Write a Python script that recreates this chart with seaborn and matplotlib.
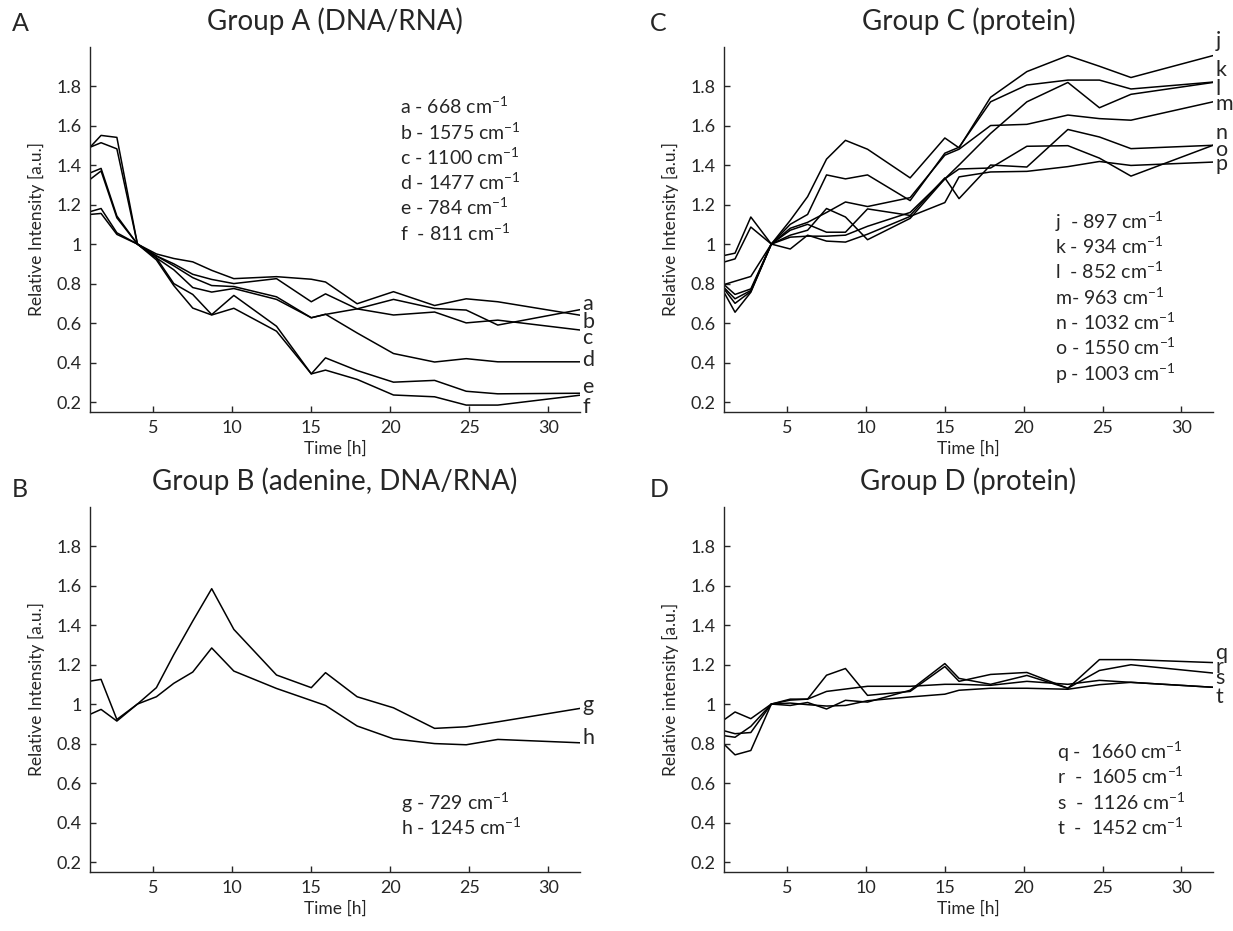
import numpy as np
import pandas as pd
import seaborn as sns
import matplotlib.pyplot as plt
from matplotlib.ticker import FuncFormatter

# time points [h]
time_h = [1, 1.7, 2.7, 4, 5.2, 6.3, 7.5, 8.7, 10.1, 12.8, 15, 15.9, 17.9, 20.2, 22.8, 24.8, 26.8, 32]

# Group A (DNA/RNA)
a_668 = [1.49, 1.55, 1.54, 1.0, 0.94, 0.89, 0.83, 0.79, 0.785, 0.733, 0.627, 0.644, 0.672, 0.72, 0.674, 0.666, 0.59, 0.668]
b_1575 = [1.49, 1.513, 1.482, 1.0, 0.95, 0.927, 0.91, 0.867, 0.825, 0.835, 0.822, 0.808, 0.698, 0.759, 0.689, 0.723, 0.708, 0.64]
c_1100 = [1.36, 1.383, 1.142, 1.0, 0.94, 0.90, 0.847, 0.821, 0.80, 0.825, 0.708, 0.748, 0.672, 0.641, 0.656, 0.601, 0.615, 0.565]
d_1477 = [1.327, 1.37, 1.133, 1.0, 0.93, 0.87, 0.78, 0.757, 0.775, 0.72, 0.627, 0.645, 0.55, 0.446, 0.403, 0.42, 0.404, 0.404]
e_784 = [1.164, 1.18, 1.057, 1.0, 0.93, 0.80, 0.745, 0.643, 0.74, 0.584, 0.343, 0.424, 0.36, 0.301, 0.31, 0.255, 0.242, 0.245]
f_811 = [1.15, 1.155, 1.049, 1.0, 0.92, 0.79, 0.676, 0.641, 0.675, 0.559, 0.343, 0.362, 0.315, 0.236, 0.227, 0.185, 0.185, 0.235]

# Group B (adenine, DNA/RNA)
g_729 = [1.116, 1.125, 0.922, 1.0, 1.083, 1.25, 1.42, 1.584, 1.378, 1.147, 1.083, 1.159, 1.037, 0.981, 0.877, 0.885, 0.91, 0.978]
h_1245 = [0.948, 0.973, 0.914, 1.0, 1.037, 1.105, 1.162, 1.284, 1.167, 1.079, 1.018, 0.993, 0.889, 0.824, 0.80, 0.794, 0.821, 0.804]

# Group C (protein)
j_897 = [0.942, 0.954, 1.137, 1.0, 1.12, 1.24, 1.43, 1.525, 1.48, 1.335, 1.537, 1.487, 1.743, 1.873, 1.954, 1.90, 1.843, 1.954]
k_934 = [0.909, 0.925, 1.086, 1.0, 1.10, 1.15, 1.35, 1.33, 1.35, 1.22, 1.46, 1.49, 1.72, 1.805, 1.83, 1.83, 1.785, 1.82]
l_852 = [0.795, 0.812, 0.836, 1.0, 1.045, 1.07, 1.18, 1.137, 1.022, 1.13, 1.33, 1.40, 1.56, 1.72, 1.818, 1.69, 1.758, 1.818]
m_963 = [0.795, 0.745, 0.773, 1.0, 1.08, 1.11, 1.16, 1.213, 1.19, 1.235, 1.45, 1.48, 1.60, 1.606, 1.653, 1.635, 1.627, 1.72]
n_1032 = [0.78, 0.723, 0.765, 1.0, 1.07, 1.10, 1.06, 1.06, 1.178, 1.145, 1.335, 1.23, 1.40, 1.39, 1.58, 1.542, 1.483, 1.50]
o_1550 = [0.773, 0.70, 0.76, 1.0, 1.035, 1.04, 1.04, 1.045, 1.09, 1.16, 1.33, 1.38, 1.385, 1.495, 1.498, 1.435, 1.344, 1.50]
p_1003 = [0.756, 0.655, 0.756, 1.0, 0.975, 1.045, 1.015, 1.01, 1.05, 1.14, 1.21, 1.34, 1.365, 1.368, 1.392, 1.418, 1.398, 1.415]

# Group D (protein)
q_1660 = [0.92, 0.96, 0.926, 1.0, 1.025, 1.025, 1.146, 1.18, 1.044, 1.064, 1.19, 1.115, 1.15, 1.16, 1.08, 1.225, 1.225, 1.21]
r_1605 = [0.865, 0.85, 0.856, 1.0, 0.993, 1.008, 0.975, 1.019, 1.01, 1.07, 1.205, 1.13, 1.10, 1.145, 1.08, 1.17, 1.199, 1.157]
s_1126 = [0.84, 0.832, 0.887, 1.0, 1.02, 1.025, 1.064, 1.076, 1.09, 1.09, 1.10, 1.10, 1.095, 1.115, 1.10, 1.12, 1.11, 1.085]
t_1452 = [0.797, 0.743, 0.765, 1.0, 1.005, 0.997, 0.99, 0.993, 1.017, 1.036, 1.05, 1.07, 1.08, 1.08, 1.075, 1.098, 1.11, 1.085]

# end-of-line letters and their baselines
letters_a = ['a', 'b', 'c', 'd', 'e', 'f']
letter_y_a = [0.665, 0.575, 0.495, 0.385, 0.245, 0.145]
letters_b = ['g', 'h']
letter_y_b = [0.965, 0.796]
letters_c = ['j', 'k', 'l', 'm', 'n', 'o', 'p']
letter_y_c = [2.0, 1.85, 1.753, 1.677, 1.533, 1.446, 1.373]
letters_d = ['q', 'r', 's', 't']
letter_y_d = [1.226, 1.159, 1.10, 1.007]

# legend texts
legend_a = ['a - 668 cm$^{-1}$', 'b - 1575 cm$^{-1}$', 'c - 1100 cm$^{-1}$',
            'd - 1477 cm$^{-1}$', 'e - 784 cm$^{-1}$', 'f  - 811 cm$^{-1}$']
legend_b = ['g - 729 cm$^{-1}$', 'h - 1245 cm$^{-1}$']
legend_c = ['j  - 897 cm$^{-1}$', 'k - 934 cm$^{-1}$', 'l  - 852 cm$^{-1}$', 'm- 963 cm$^{-1}$',
            'n - 1032 cm$^{-1}$', 'o - 1550 cm$^{-1}$', 'p - 1003 cm$^{-1}$']
legend_d = ['q -  1660 cm$^{-1}$', 'r  -  1605 cm$^{-1}$', 's  -  1126 cm$^{-1}$', 't  -  1452 cm$^{-1}$']

sns.set_style('ticks')
plt.rcParams['font.family'] = ['Lato', 'DejaVu Sans']
plt.rcParams['mathtext.default'] = 'regular'
plt.rcParams['axes.linewidth'] = 1.0
plt.rcParams['xtick.direction'] = 'in'
plt.rcParams['ytick.direction'] = 'in'

fig = plt.figure(figsize=(12.33, 9.31), dpi=100)
W, H = 1233, 931
ax_a = fig.add_axes([90 / W, 1 - 412 / H, 490 / W, 365.5 / H])
ax_c = fig.add_axes([724 / W, 1 - 412 / H, 489 / W, 365.5 / H])
ax_b = fig.add_axes([90 / W, 1 - 872 / H, 490 / W, 365.5 / H])
ax_d = fig.add_axes([724 / W, 1 - 872 / H, 489 / W, 365.5 / H])


def draw_panel(ax, series, letters, letter_y, legend, legend_x, legend_y0, title, ylabel):
    rows = []
    for name, vals in zip(letters, series):
        for t, v in zip(time_h, vals):
            rows.append({'time': t, 'value': v, 'series': name})
    df = pd.DataFrame(rows)
    sns.lineplot(data=df, x='time', y='value', units='series', estimator=None,
                 color='black', linewidth=1.1, ax=ax, legend=False)
    ax.set_xlim(1, 32)
    ax.set_ylim(0.15, 2.0)
    ax.set_xticks([5, 10, 15, 20, 25, 30])
    ax.set_yticks([0.2, 0.4, 0.6, 0.8, 1.0, 1.2, 1.4, 1.6, 1.8])
    ax.yaxis.set_major_formatter(FuncFormatter(lambda v, p: f'{v:g}'))
    ax.tick_params(labelsize=13, length=4, width=1.0, pad=6)
    sns.despine(ax=ax)
    ax.set_xlabel('Time [h]', fontsize=12.5, labelpad=3)
    ax.set_ylabel(ylabel, fontsize=12.5, labelpad=8)
    ax.set_title(title, fontsize=20, pad=12)
    for lab, y in zip(letters, letter_y):
        ax.text(32.15, y, lab, fontsize=15.5, va='baseline', ha='left', clip_on=False)
    for i, s in enumerate(legend):
        ax.text(legend_x, legend_y0 - i * 0.128, s, fontsize=14, va='baseline', ha='left')


draw_panel(ax_a, [a_668, b_1575, c_1100, d_1477, e_784, f_811], letters_a, letter_y_a,
           legend_a, 20.6, 1.658, 'Group A (DNA/RNA)', 'Relative Intensity [a.u.]')
draw_panel(ax_b, [g_729, h_1245], letters_b, letter_y_b,
           legend_b, 20.7, 0.467, 'Group B (adenine, DNA/RNA)', 'Relative Intensity [a.u.]')
draw_panel(ax_c, [j_897, k_934, l_852, m_963, n_1032, o_1550, p_1003], letters_c, letter_y_c,
           legend_c, 22.0, 1.078, 'Group C (protein)', 'Relative Intensity [a.u.]')
draw_panel(ax_d, [q_1660, r_1605, s_1126, t_1452], letters_d, letter_y_d,
           legend_d, 22.1, 0.723, 'Group D (protein)', 'Relative intensity [a.u.]')

# panel letters
for lab, x, y in [('A', 12, 31), ('C', 650, 31), ('B', 12, 497), ('D', 650, 497)]:
    fig.text(x / W, 1 - y / H, lab, fontsize=18, va='baseline', ha='left')

fig.savefig('out.png', dpi=100)
